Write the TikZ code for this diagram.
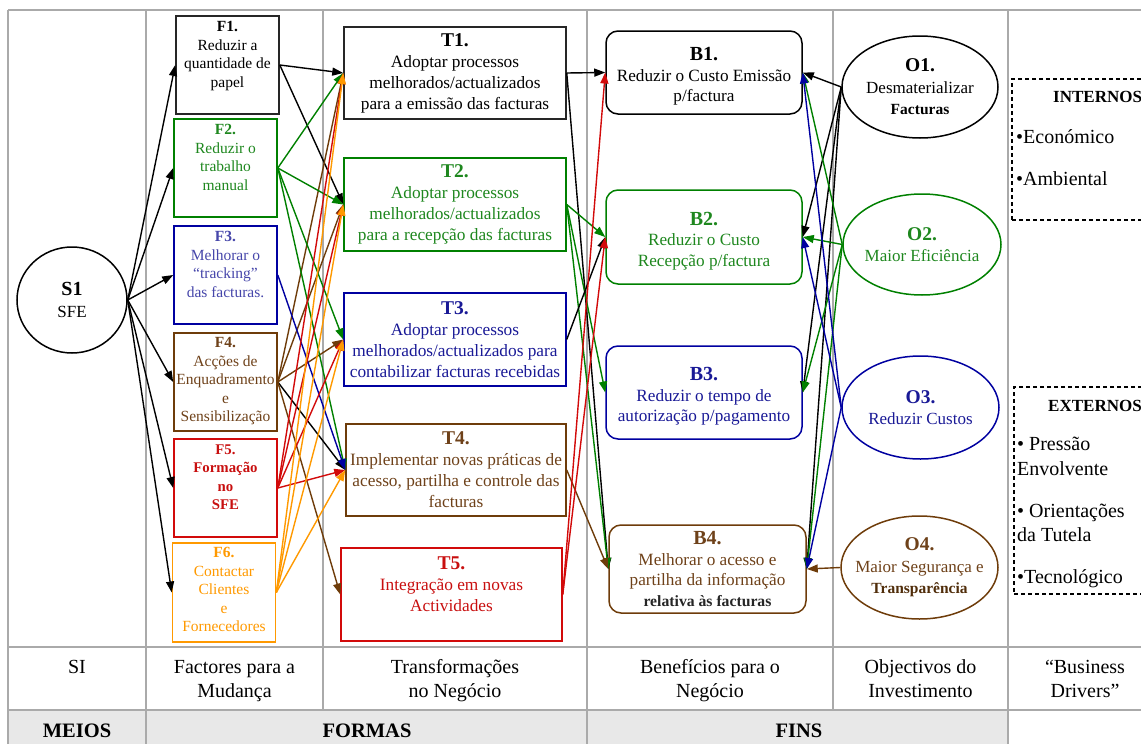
\documentclass[tikz,border=0pt]{standalone}
\usepackage{fontspec}
\setmainfont{Liberation Serif}
\usetikzlibrary{arrows.meta,shapes.geometric}

\definecolor{rulegray}{RGB}{170,170,170}
\definecolor{bandgray}{RGB}{232,232,232}
\definecolor{lgreen}{RGB}{0,128,0}
\definecolor{lblue}{RGB}{0,0,160}
\definecolor{lbrown}{RGB}{110,60,10}
\definecolor{lred}{RGB}{210,10,10}
\definecolor{lorange}{RGB}{255,153,0}
\definecolor{xgreen}{RGB}{30,135,30}
\definecolor{xblue}{RGB}{25,25,150}
\definecolor{xpaleblue}{RGB}{70,70,170}
\definecolor{xbrown}{RGB}{110,65,25}
\definecolor{xdarkbrown}{RGB}{80,45,10}
\definecolor{xred}{RGB}{200,15,15}

\newcommand{\fsz}[2]{\fontsize{#1}{#2}\selectfont}
\newcommand{\hstrut}{\rule{0pt}{18pt}}
\newcommand{\bstrut}{\rule{0pt}{21pt}}

\begin{document}
\begin{tikzpicture}[x=1pt,y=-1pt,
  rule/.style={draw=rulegray,line width=1.5pt},
  factor/.style={draw,rectangle,line width=1.6pt,minimum width=103pt,minimum height=98pt,inner sep=0pt},
  ftext/.style={anchor=north,align=center,inner sep=0pt,font=\fsz{15.5}{18.5}},
  change/.style={draw,rectangle,line width=1.5pt,minimum width=222pt,minimum height=92pt,inner sep=0pt,align=center,font=\fsz{17.3}{21}},
  benefit/.style={draw,rectangle,rounded corners=12pt,line width=1.5pt,minimum width=196pt,inner sep=0pt,align=center,font=\fsz{17.2}{20.5}},
  goal/.style={draw,ellipse,line width=1.5pt,minimum width=156pt,minimum height=102pt,inner xsep=-20pt,inner ysep=0pt,align=center,font=\fsz{17}{21.5}},
  link/.style={line width=1.4pt,-{Triangle[length=11pt,width=8pt]}},
  head/.style={anchor=north,align=center,inner sep=0pt,font=\fsz{20}{24}},
  band/.style={anchor=base,inner sep=0pt,font=\fsz{20.5}{24}\bfseries},
  drvbox/.style={draw,dash pattern=on 4pt off 3pt,line width=1.2pt,rectangle,inner sep=0pt},
  drv/.style={anchor=base west,inner sep=0pt,font=\fsz{20}{24}},
  drvtitle/.style={anchor=base west,inner sep=0pt,font=\fsz{17}{20}\bfseries},
]
\useasboundingbox (0,0) rectangle (1141,744);
\clip (0,0) rectangle (1141,744);

% ---------- table grid ----------
\fill[bandgray] (8,710) rectangle (1008,750);
\draw[rule] (8,10) -- (1160,10);
\draw[rule] (8,647) -- (1160,647);
\draw[rule] (8,710) -- (1160,710);
\draw[rule] (8,10) -- (8,750);
\draw[rule] (146,10) -- (146,750);
\draw[rule] (323,10) -- (323,710);
\draw[rule] (587,10) -- (587,750);
\draw[rule] (833,10) -- (833,710);
\draw[rule] (1008,10) -- (1008,750);

% ---------- column headings ----------
\node[head] (hSI) at (77,655) {\hstrut SI};
\node[head] (hF) at (234.5,655) {\hstrut Factores para a\\Mudança};
\node[head] (hT) at (455,655) {\hstrut Transformações\\no Negócio};
\node[head] (hB) at (710,655) {\hstrut Benefícios para o\\Negócio};
\node[head] (hO) at (920.5,655) {\hstrut Objectivos do\\Investimento};
\node[head] (hD) at (1085,655) {\hstrut “Business\\Drivers”};
\node[band] (meios) at (77,737) {MEIOS};
\node[band] (formas) at (367,737) {FORMAS};
\node[band] (fins) at (799,737) {FINS};

% ---------- system ----------
\node[draw,ellipse,line width=1.5pt,minimum width=110pt,minimum height=106pt,inner sep=0pt,align=center,font=\fsz{17}{22}]
  (S1) at (72,300) {{\fsz{20}{22}\bfseries S1}\\SFE};

% ---------- factors for change ----------
\node[factor,draw=black!85] (F1) at (227.5,65) {};
\node[factor,draw=lgreen] (F2) at (225.5,168) {};
\node[factor,draw=lblue] (F3) at (225.5,275) {};
\node[factor,draw=lbrown] (F4) at (225.5,382) {};
\node[factor,draw=lred] (F5) at (225.5,488) {};
\node[factor,draw=lorange,minimum height=99pt] (F6) at (224,592.5) {};
\node[ftext] (F1t) at ([yshift=-6pt]F1.north) {{\bfseries F1.}\\Reduzir a\\quantidade de\\papel};
\node[ftext,text=xgreen] (F2t) at ([yshift=-6pt]F2.north) {{\bfseries F2.}\\Reduzir o\\trabalho\\manual};
\node[ftext,text=xpaleblue] (F3t) at ([yshift=-6pt]F3.north) {{\bfseries F3.}\\Melhorar o\\“tracking”\\das facturas.};
\node[ftext,text=xbrown] (F4t) at ([yshift=-5pt]F4.north) {{\bfseries F4.}\\Acções de\\Enquadramento\\e\\Sensibilização};
\node[ftext,text=xred,font=\fsz{14.8}{18.5}\bfseries] (F5t) at ([yshift=-6pt]F5.north) {F5.\\Formação\\no\\SFE};
\node[ftext,text=lorange] (F6t) at ([yshift=-5pt]F6.north) {{\bfseries F6.}\\Contactar\\Clientes\\e\\Fornecedores};

% ---------- business transformations ----------
\node[change,draw=black!85] (T1) at (455,73)
  {{\fsz{19.5}{21}\bfseries T1.}\\Adoptar processos\\melhorados/actualizados\\para a emissão das facturas};
\node[change,draw=lgreen,text=xgreen,minimum height=93pt] (T2) at (455,204.5)
  {{\fsz{19.5}{21}\bfseries T2.}\\Adoptar processos\\melhorados/actualizados\\para a recepção das facturas};
\node[change,draw=lblue,text=xblue,minimum height=93pt] (T3) at (455,339.5)
  {{\fsz{19.5}{21}\bfseries T3.}\\Adoptar processos\\melhorados/actualizados para\\contabilizar facturas recebidas};
\node[change,draw=lbrown,text=xbrown,minimum width=220pt] (T4) at (456,470)
  {{\fsz{19.5}{21}\bfseries T4.}\\Implementar novas práticas de\\acesso, partilha e controle das\\facturas};
% the trailing empty line keeps the text in the upper part of the box
\node[change,draw=lred,text=xred,minimum width=221pt,minimum height=93pt] (T5) at (451.5,594.5)
  {{\fsz{19.5}{21}\bfseries T5.}\\Integração em novas\\Actividades\\\mbox{}};

% ---------- business benefits ----------
\node[benefit,draw=black,minimum height=83pt] (B1) at (704,72.5)
  {\bstrut{\fsz{20}{21}\bfseries B1.}\\Reduzir o Custo Emissão\\p/factura};
\node[benefit,draw=lgreen,text=xgreen,minimum height=94pt] (B2) at (704,237)
  {\bstrut{\fsz{20}{21}\bfseries B2.}\\Reduzir o Custo\\Recepção p/factura};
\node[benefit,draw=lblue,text=xblue,minimum height=93pt] (B3) at (704,392.5)
  {\bstrut{\fsz{20}{21}\bfseries B3.}\\Reduzir o tempo de\\autorização p/pagamento};
\node[benefit,draw=lbrown,text=xbrown,minimum width=197pt,minimum height=88pt] (B4) at (707.5,569)
  {{\fsz{20}{21}\bfseries B4.}\\Melhorar o acesso e\\partilha da informação\\{\fsz{15.7}{20.5}\bfseries\color{black!85}relativa às facturas}};

% ---------- investment objectives ----------
\node[goal,draw=black] (O1) at (920,87)
  {{\fsz{19.5}{21.5}\bfseries O1.}\\Desmaterializar\\{\fsz{15.5}{21.5}\bfseries Facturas}};
\node[goal,draw=lgreen,text=xgreen,minimum width=158pt,minimum height=101pt] (O2) at (922,244.5)
  {{\fsz{19.5}{21.5}\bfseries O2.}\\Maior Eficiência};
\node[goal,draw=lblue,text=xblue,minimum width=157pt,minimum height=103pt] (O3) at (920.5,407.5)
  {{\fsz{19.5}{21.5}\bfseries O3.}\\Reduzir Custos};
\node[goal,draw=lbrown,text=xbrown,minimum width=157pt,minimum height=103pt] (O4) at (919.5,567.5)
  {{\fsz{19.5}{21.5}\bfseries O4.}\\Maior Segurança e\\{\fsz{15.5}{21.5}\bfseries\color{xdarkbrown}Transparência}};

% ---------- business drivers ----------
\node[drvbox,minimum width=148pt,minimum height=141pt] (intern) at (1086,149.5) {};
\node[drvtitle] (internT) at (1053,102) {INTERNOS};
\node[drv] (eco) at (1016,143) {•Económico};
\node[drv] (amb) at (1016,185) {•Ambiental};
\node[drvbox,minimum width=146pt,minimum height=207pt] (extern) at (1087,490.5) {};
\node[drvtitle] (externT) at (1048,411) {EXTERNOS};
\node[drv] (pre) at (1017,450) {• Pressão};
\node[drv] (env) at (1017,475) {Envolvente};
\node[drv] (ori) at (1017,517) {• Orientações};
\node[drv] (tut) at (1017,541) {da Tutela};
\node[drv] (tec) at (1017,583) {•Tecnológico};

% ---------- system -> factors ----------
\foreach \f in {F1,F2,F3,F4,F5,F6}
  \draw[link] (S1.east) -- (\f.west);

% ---------- factors -> transformations ----------
\foreach \t in {T1,T2}
  \draw[link] (F1.east) -- (\t.west);
\draw[link] (F4.east) -- (T4.west);
\foreach \t in {T1,T2,T3,T5}
  \draw[link,lbrown] (F4.east) -- (\t.west);
\foreach \t in {T1,T2,T3,T4}
  \draw[link,lgreen] (F2.east) -- (\t.west);
\draw[link,lblue] (F3.east) -- (T4.west);
\foreach \t in {T1,T2,T3,T4}
  \draw[link,lred] (F5.east) -- (\t.west);
\foreach \t in {T1,T2,T3,T4}
  \draw[link,lorange] (F6.east) -- (\t.west);

% ---------- transformations -> benefits ----------
\foreach \b in {B1,B4}
  \draw[link] (T1.east) -- (\b.west);
\foreach \b in {B2,B3,B4}
  \draw[link,lgreen] (T2.east) -- (\b.west);
\draw[link] (T3.east) -- (B2.west);
\draw[link,lbrown] (T4.east) -- (B4.west);
\foreach \b in {B1,B2}
  \draw[link,lred] (T5.east) -- (\b.west);

% ---------- objectives -> benefits ----------
\foreach \b in {B1,B2,B3,B4}
  \draw[link] (O1.west) -- (\b.east);
\foreach \b in {B1,B2,B3,B4}
  \draw[link,lgreen] (O2.west) -- (\b.east);
\foreach \b in {B1,B2,B4}
  \draw[link,lblue] (O3.west) -- (\b.east);
\draw[link,lbrown] (O4.west) -- (B4.east);

\end{tikzpicture}
\end{document}
